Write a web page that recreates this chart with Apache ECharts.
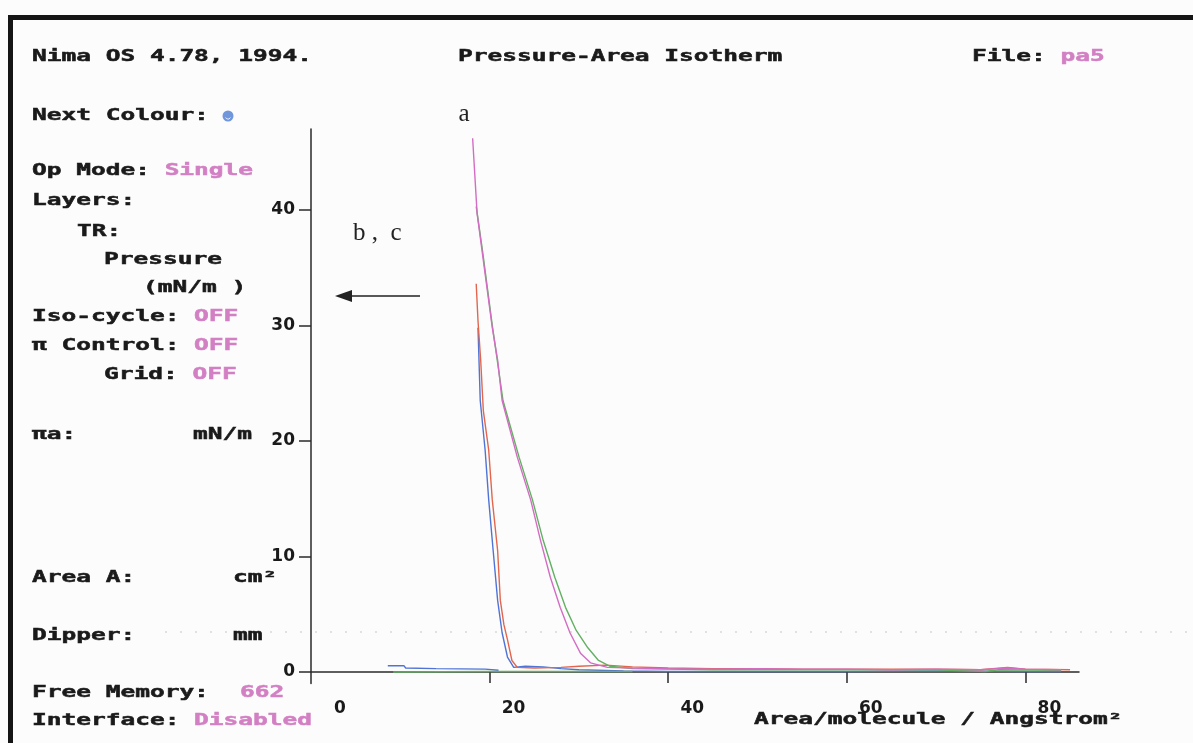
<!DOCTYPE html>
<html>
<head>
<meta charset="utf-8">
<script src="https://cdn.jsdelivr.net/npm/echarts@6/dist/echarts.min.js"></script>
<style>
  html, body { margin: 0; padding: 0; background: #fcfcfc; }
  #c { width: 1193px; height: 743px; }
</style>
</head>
<body>
<div id="c"></div>
<script>
// Axis ticks
const xTicks = [0, 20, 40, 60, 80];
const yTicks = [0, 10, 20, 30, 40];

// Isotherm traces: [area per molecule (Å²), surface pressure (mN/m)]
const tracePink = [
  [18.1, 46.2], [18.6, 39.7], [19.2, 36.2], [19.7, 33.3], [20.3, 29.8], [20.9, 27.0],
  [21.4, 23.5], [23.1, 18.6], [24.6, 14.9], [25.7, 11.4], [26.8, 8.2], [27.9, 5.6],
  [29.0, 3.4], [30.2, 1.6], [31.3, 0.8], [33.2, 0.4], [36, 0.35], [40, 0.3], [45, 0.25],
  [50, 0.3], [55, 0.25], [60, 0.25], [65, 0.2], [70, 0.25], [75, 0.2], [78, 0.35],
  [80, 0.25], [84, 0.2]
];
const traceGreen = [
  [18.5, 40.3], [19.2, 36.5], [20.3, 30.0], [21.5, 23.5], [23.3, 18.6], [24.8, 14.9],
  [26.0, 11.4], [27.3, 8.2], [28.5, 5.6], [29.7, 3.6], [31.0, 2.1], [32.2, 1.0],
  [33.5, 0.5], [36, 0.3], [40, 0.25], [45, 0.2], [50, 0.2], [60, 0.2], [70, 0.2],
  [75.5, 0.05], [77, 0.2], [84, 0.15]
];
const traceGreenLow = [[9.2, 0.0], [20, 0.05], [30, 0.05], [36, 0.05]];
const traceRed = [
  [18.5, 33.6], [18.7, 30.4], [19.0, 27.0], [19.3, 22.6], [19.9, 19.2], [20.3, 14.9],
  [20.9, 10.5], [21.2, 6.2], [21.6, 4.1], [22.0, 2.8], [22.5, 1.0], [23.1, 0.4],
  [25, 0.35], [28, 0.4], [30, 0.5], [33, 0.6], [36, 0.45], [40, 0.35], [45, 0.3],
  [50, 0.3], [55, 0.25], [60, 0.25], [65, 0.25], [70, 0.25], [75, 0.2], [78, 0.4],
  [80, 0.25], [85, 0.2]
];
const traceBlue = [
  [18.7, 29.8], [18.95, 23.5], [19.5, 19.2], [19.9, 14.9], [20.4, 10.5], [20.9, 6.2],
  [21.4, 3.4], [22.0, 1.3], [22.7, 0.4], [24, 0.5], [26, 0.45], [28, 0.3], [30, 0.2],
  [35, 0.1], [40, 0.05], [50, 0.05], [60, 0.05], [70, 0.1], [80, 0.05], [84, 0.05]
];
const traceBlueLow = [[8.6, 0.55], [10.4, 0.55], [10.6, 0.35], [14, 0.3], [19.5, 0.25], [21, 0.15]];

// Status panel lines: [x, y, [text, colour] ...]
const INK = '#1a1a1a';
const PINK = '#d27fc3';
const panelLines = [
  [32, 57, ['Nima OS 4.78, 1994.', INK]],
  [458, 57, ['Pressure-Area Isotherm', INK]],
  [972, 57, ['File: ', INK], ['pa5', PINK]],
  [32, 116, ['Next Colour:', INK]],
  [32, 171, ['Op Mode: ', INK], ['Single', PINK]],
  [32, 201, ['Layers:', INK]],
  [77, 232, ['TR:', INK]],
  [104, 260, ['Pressure', INK]],
  [143, 288, ['(mN/m )', INK]],
  [32, 317, ['Iso-cycle: ', INK], ['OFF', PINK]],
  [32, 346, ['\u03c0 Control: ', INK], ['OFF', PINK]],
  [104, 375, ['Grid: ', INK], ['OFF', PINK]],
  [32, 435, ['\u03c0a:', INK]],
  [193, 435, ['mN/m', INK]],
  [32, 578, ['Area A:', INK]],
  [233, 578, ['cm\u00b2', INK]],
  [32, 636, ['Dipper:', INK]],
  [233, 636, ['mm', INK]],
  [32, 693, ['Free Memory:', INK]],
  [240, 693, ['662', PINK]],
  [32, 721, ['Interface: ', INK], ['Disabled', PINK]],
  [754, 720, ['Area/molecule / Angstrom\u00b2', INK]]
];

const MONO = '"DejaVu Sans Mono", monospace';
const FS = 16;
const SX = 1.53;                 // widen the monospace glyphs into a terminal-style cell
const CELL = FS * 0.602 * SX;    // horizontal advance per character

const graphics = [];
// frame
graphics.push({ type: 'rect', silent: true, shape: { x: 8, y: 15, width: 1185, height: 5 }, style: { fill: '#151515' } });
graphics.push({ type: 'rect', silent: true, shape: { x: 8, y: 15, width: 5, height: 728 }, style: { fill: '#151515' } });
// faint dotted row
graphics.push({ type: 'line', silent: true, shape: { x1: 165, y1: 632, x2: 1193, y2: 632 },
  style: { stroke: '#d8d8d8', lineWidth: 1.5, lineDash: [2, 13] } });

panelLines.forEach(function (line) {
  let cx = line[0];
  const cy = line[1];
  for (let i = 2; i < line.length; i++) {
    const seg = line[i];
    graphics.push({
      type: 'text', silent: true, x: cx, y: cy, scaleX: SX,
      style: {
        text: seg[0], fill: seg[1], stroke: seg[1], lineWidth: 0.5,
        font: 'bold ' + FS + 'px ' + MONO, verticalAlign: 'middle', align: 'left'
      }
    });
    cx += seg[0].length * CELL;
  }
});

// colour indicator
graphics.push({ type: 'circle', silent: true, shape: { cx: 228, cy: 116, r: 5.5 }, style: { fill: '#7096dc' } });
graphics.push({ type: 'arc', silent: true, shape: { cx: 228, cy: 116.5, r: 2.6, startAngle: 0.4, endAngle: Math.PI - 0.4 },
  style: { stroke: '#e4ecff', lineWidth: 1, fill: null } });

// curve annotations
const SERIF = '"Liberation Serif", "DejaVu Serif", serif';
graphics.push({ type: 'text', silent: true, x: 464, y: 114,
  style: { text: 'a', font: '25px ' + SERIF, fill: '#222', align: 'center', verticalAlign: 'middle' } });
graphics.push({ type: 'text', silent: true, x: 353, y: 233,
  style: { text: 'b ,  c', font: '25px ' + SERIF, fill: '#222', align: 'left', verticalAlign: 'middle' } });
graphics.push({ type: 'line', silent: true, shape: { x1: 348, y1: 296, x2: 420, y2: 296 }, style: { stroke: '#222', lineWidth: 1.5 } });
graphics.push({ type: 'polygon', silent: true, shape: { points: [[335, 296], [352, 290], [352, 302]] }, style: { fill: '#222' } });

function lineSeries(name, data, color) {
  return {
    name: name, type: 'line', data: data, symbol: 'none', showSymbol: false,
    lineStyle: { color: color, width: 1.4 }, itemStyle: { color: color },
    animation: false, silent: true
  };
}

const AXIS = '#2a2a2a';
const LABEL_FONT = { fontFamily: '"DejaVu Sans"', fontWeight: 'bold', fontSize: 17, color: INK };
const chart = echarts.init(document.getElementById('c'), null, { renderer: 'canvas' });
chart.setOption({
  backgroundColor: '#fcfcfc',
  animation: false,
  grid: { left: 311, top: 129, width: 768, height: 554.6 },
  xAxis: {
    type: 'value', min: 0, max: 86,
    axisLine: { onZero: true, lineStyle: { color: AXIS, width: 1.5 } },
    axisTick: { show: true, length: 11, customValues: [20, 40, 60, 80], lineStyle: { color: AXIS, width: 1.5 } },
    axisLabel: {
      customValues: xTicks, margin: 16,
      formatter: function (v) { return v === 0 ? '{z|0}' : '{n|' + v + '}'; },
      rich: {
        z: Object.assign({ padding: [0, 0, 0, 58] }, LABEL_FONT),
        n: Object.assign({ padding: [0, 0, 0, 48] }, LABEL_FONT)
      }
    },
    splitLine: { show: false }
  },
  yAxis: {
    type: 'value', min: -1, max: 47,
    axisLine: { onZero: false, lineStyle: { color: AXIS, width: 1.5 } },
    axisTick: { show: true, length: 12, customValues: yTicks, lineStyle: { color: AXIS, width: 1.5 } },
    axisLabel: Object.assign({ customValues: yTicks, margin: 16 }, LABEL_FONT),
    splitLine: { show: false }
  },
  series: [
    lineSeries('c', traceBlue, '#4f74d6'),
    lineSeries('c-low', traceBlueLow, '#4f74d6'),
    lineSeries('b', traceRed, '#e2664e'),
    lineSeries('a2', traceGreen, '#62b062'),
    lineSeries('a2-low', traceGreenLow, '#62b062'),
    lineSeries('a1', tracePink, '#d46cc4')
  ],
  graphic: graphics
});
</script>
</body>
</html>
